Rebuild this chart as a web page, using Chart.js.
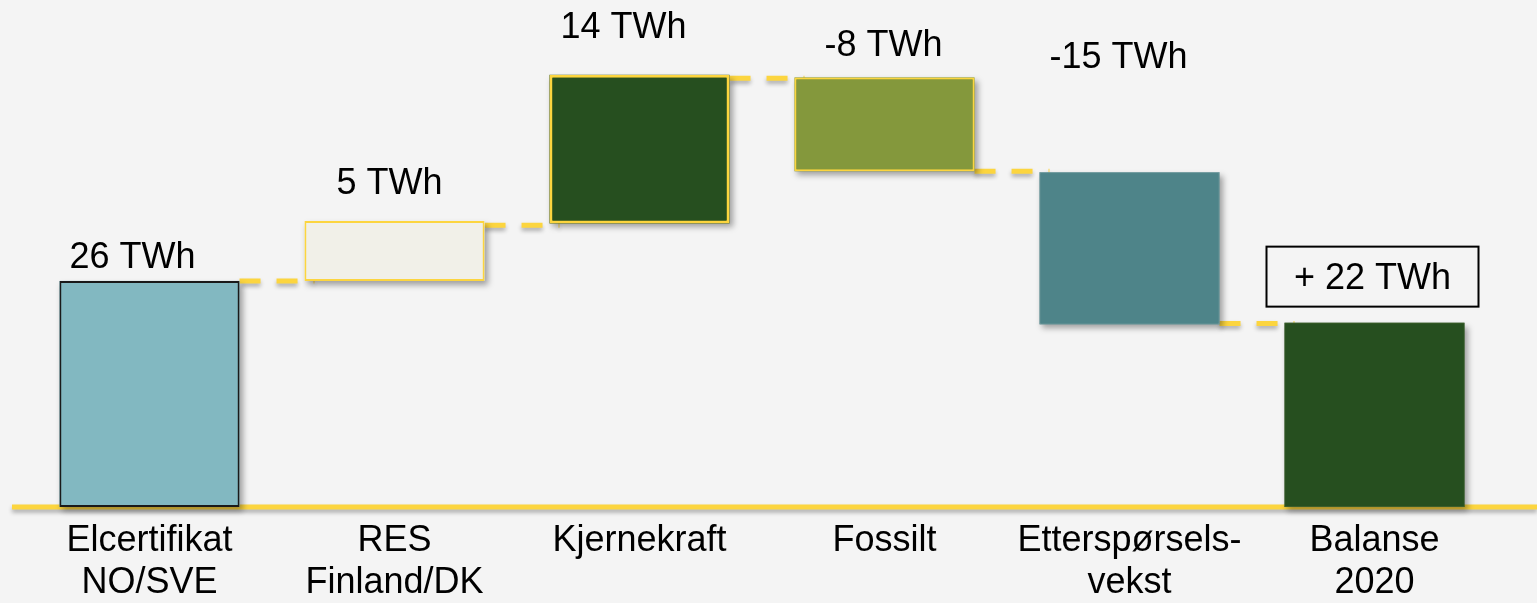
<!DOCTYPE html>
<html>
<head>
<meta charset="utf-8">
<script src="https://cdn.jsdelivr.net/npm/chart.js@4"></script>
<style>
  html, body { margin: 0; padding: 0; background: #f4f4f4; }
  #wrap { width: 1537px; height: 603px; position: relative; }
</style>
</head>
<body>
<div id="wrap"><canvas id="balanceChart"></canvas></div>
<script>
let categories = [
  ["Elcertifikat", "NO/SVE"],
  ["RES", "Finland/DK"],
  "Kjernekraft",
  "Fossilt",
  ["Etterspørsels-", "vekst"],
  ["Balanse", "2020"],
];
// floating bars, TWh as they are drawn in the picture
let barStart = [0, 26, 32.6, 49.4, 38.5, 0];
let barEnd = [26, 32.9, 49.7, 38.6, 21.0, 21.2];
let valueLabels = ["26 TWh", "5 TWh", "14 TWh", "-8 TWh", "-15 TWh", "+ 22 TWh"];
// dashed step lines between neighbouring bars
let connectorLevels = [26.0, 32.4, 49.3, 38.6, 21.1];

let barColors = ["#82b8c1", "#f1f0e8", "#264f1f", "#84983c", "#4e8489", "#264f1f"];
let edgeColors = ["#1a1a1a", "#fcd53f", "#fcd53f", "#fcd53f", "#7fa3a6", "#3d5f2a"];
let edgeWidths = [2, 2, 3, 2, 1, 1];

const yellow = "#fcd53f";
const font = "Liberation Sans, Arial, sans-serif";

// label placement relative to the bar top (px)
const labelShiftX = [-17, -5, -16, -1, -11, -2];
const labelRaise = [13, 27, 37, 21, 104, 34];

const decor = {
  id: "decor",
  beforeDatasetsDraw(chart) {
    const ctx = chart.ctx;
    const yScale = chart.scales.y;
    const bars = chart.getDatasetMeta(0).data;
    const zero = yScale.getPixelForValue(0);

    ctx.save();
    ctx.shadowColor = "rgba(0,0,0,0.3)";
    ctx.shadowBlur = 4;
    ctx.shadowOffsetY = 3;
    ctx.strokeStyle = yellow;
    ctx.lineWidth = 5;
    ctx.beginPath();
    ctx.moveTo(12, zero);
    ctx.lineTo(chart.width, zero);
    ctx.stroke();

    ctx.setLineDash([21, 16]);
    connectorLevels.forEach((lvl, i) => {
      const py = yScale.getPixelForValue(lvl);
      const x0 = bars[i].x + bars[i].width / 2;
      const x1 = bars[i + 1].x - bars[i + 1].width / 2 + 10;
      ctx.beginPath();
      ctx.moveTo(x0, py);
      ctx.lineTo(x1, py);
      ctx.stroke();
    });
    ctx.restore();

    // soft drop shadow under each bar
    ctx.save();
    ctx.shadowColor = "rgba(0,0,0,0.35)";
    ctx.shadowBlur = 6;
    ctx.shadowOffsetX = 3;
    ctx.shadowOffsetY = 4;
    bars.forEach((b, i) => {
      const top = Math.min(b.y, b.base);
      const h = Math.abs(b.base - b.y);
      ctx.fillStyle = barColors[i];
      ctx.fillRect(b.x - b.width / 2, top, b.width, h);
    });
    ctx.restore();
  },
  afterDatasetsDraw(chart) {
    const ctx = chart.ctx;
    const bars = chart.getDatasetMeta(0).data;
    ctx.save();
    ctx.font = "36px " + font;
    ctx.fillStyle = "#000";
    ctx.textAlign = "center";
    ctx.textBaseline = "alphabetic";
    bars.forEach((b, i) => {
      const top = Math.min(b.y, b.base);
      const cx = b.x + labelShiftX[i];
      const by = top - labelRaise[i];
      ctx.fillText(valueLabels[i], cx, by);
      if (i === bars.length - 1) {
        ctx.strokeStyle = "#000";
        ctx.lineWidth = 2;
        ctx.strokeRect(cx - 106, by - 42, 212, 60);
      }
    });
    ctx.restore();
  },
};

new Chart("balanceChart", {
  type: "bar",
  data: {
    labels: categories,
    datasets: [
      {
        data: barStart.map((s, i) => [s, barEnd[i]]),
        backgroundColor: barColors,
        borderColor: edgeColors,
        borderWidth: edgeWidths,
        borderSkipped: false,
        barPercentage: 0.735,
        categoryPercentage: 1,
      },
    ],
  },
  options: {
    responsive: true,
    maintainAspectRatio: false,
    animation: false,
    layout: { padding: { left: 27, right: 40, top: 0, bottom: 0 } },
    plugins: {
      legend: { display: false },
      tooltip: { enabled: false },
    },
    scales: {
      x: {
        grid: { display: false },
        border: { display: false },
        afterFit: (scale) => { scale.height = 96; },
        ticks: {
          color: "#000",
          padding: 5,
          maxRotation: 0,
          autoSkip: false,
          font: { family: font, size: 36, lineHeight: 1.17 },
        },
      },
      y: {
        display: false,
        min: 0,
        max: 58.3,
      },
    },
  },
  plugins: [decor],
});
</script>
</body>
</html>
